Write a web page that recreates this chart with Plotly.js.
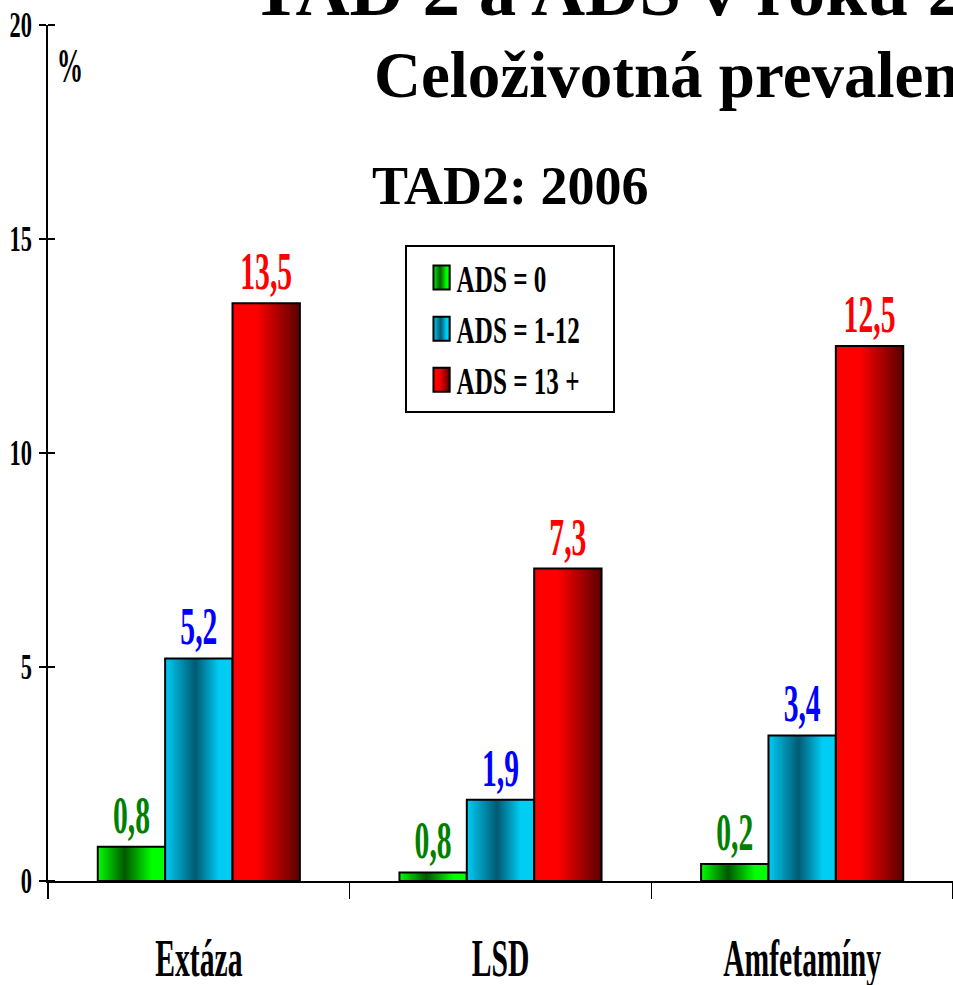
<!DOCTYPE html>
<html>
<head>
<meta charset="utf-8">
<script src="https://cdn.plot.ly/plotly-3.0.1.min.js"></script>
<style>
html,body{margin:0;padding:0;background:#fff;}
#chart{width:953px;height:985px;}
</style>
</head>
<body>
<div id="chart"></div>
<script>
const categories = ['Extáza', 'LSD', 'Amfetamíny'];
const seriesNames = ['ADS = 0', 'ADS = 1-12', 'ADS = 13 +'];
const ads0 = [0.8, 0.2, 0.4];
const ads0Labels = ['0,8', '0,8', '0,2'];
const ads1to12 = [5.2, 1.9, 3.4];
const ads1to12Labels = ['5,2', '1,9', '3,4'];
const ads13plus = [13.5, 7.3, 12.5];
const ads13plusLabels = ['13,5', '7,3', '12,5'];
const yTicks = [0, 5, 10, 15, 20];

const FONT = '"Liberation Serif", "Times New Roman", serif';
const baseColors = ['#00e000', '#00c0e8', '#ff0000'];
const labelColors = ['#008000', '#0000ff', '#ff0000'];
const values = [ads0, ads1to12, ads13plus];
const labels = [ads0Labels, ads1to12Labels, ads13plusLabels];

const traces = values.map((v, i) => ({
  type: 'bar',
  name: seriesNames[i],
  x: categories,
  y: v,
  text: labels[i],
  textposition: 'outside',
  constraintext: 'none',
  cliponaxis: false,
  textfont: {family: FONT, size: 52, color: labelColors[i], weight: 'bold'},
  marker: {color: baseColors[i], line: {color: '#000', width: 2}},
  legendgroup: 'g' + i,
  hoverinfo: 'none'
}));

const layout = {
  width: 953, height: 985,
  margin: {l: 48, r: 0, t: 25, b: 104},
  paper_bgcolor: '#fff', plot_bgcolor: '#fff',
  barmode: 'group', bargap: 0.33, bargroupgap: 0,
  font: {family: FONT, color: '#000', weight: 'bold'},
  showlegend: true,
  legend: {
    x: 0.394, y: 0.743, xanchor: 'left', yanchor: 'top',
    bordercolor: '#000', borderwidth: 2, bgcolor: '#fff',
    font: {family: FONT, size: 37, color: '#000', weight: 'bold'},
    traceorder: 'grouped', tracegroupgap: 0,
    itemwidth: 30
  },
  xaxis: {
    type: 'category', range: [-0.5, 2.5], fixedrange: true,
    showline: true, linecolor: '#000', linewidth: 2,
    ticks: 'outside', tickson: 'boundaries', ticklen: 16, tickwidth: 1.5, tickcolor: '#000',
    tickfont: {family: FONT, size: 52, color: '#000', weight: 'bold'},
    ticklabelstandoff: 31,
    showgrid: false, zeroline: false
  },
  yaxis: {
    range: [0, 20], fixedrange: true,
    tickvals: yTicks, ticktext: yTicks.map(String),
    showline: true, linecolor: '#000', linewidth: 2,
    ticks: 'outside', ticklen: 7, tickwidth: 1.5, tickcolor: '#000',
    minor: {tickvals: yTicks, ticks: 'inside', ticklen: 7, tickwidth: 1.5, tickcolor: '#000', showgrid: false},
    tickfont: {family: FONT, size: 35, color: '#000', weight: 'bold'},
    ticklabelstandoff: 3,
    showgrid: false, zeroline: false
  },
  annotations: [
    {text: 'TAD 2 a ADS v roku 2006', xref: 'paper', yref: 'paper', x: 0.222, y: 1.041,
     xanchor: 'left', yanchor: 'middle', showarrow: false,
     font: {family: FONT, size: 75, color: '#000', weight: 'bold'}},
    {text: 'Celoživotná prevalencia', xref: 'paper', yref: 'paper', x: 0.358, y: 0.942,
     xanchor: 'left', yanchor: 'middle', showarrow: false,
     font: {family: FONT, size: 65, color: '#000', weight: 'bold'}},
    {text: 'TAD2: 2006', xref: 'paper', yref: 'paper', x: 0.5105, y: 0.812,
     xanchor: 'center', yanchor: 'middle', showarrow: false,
     font: {family: FONT, size: 54, color: '#000', weight: 'bold'}},
    {text: '%', xref: 'paper', yref: 'paper', x: 0.0243, y: 0.953,
     xanchor: 'center', yanchor: 'middle', showarrow: false,
     font: {family: FONT, size: 48, color: '#000', weight: 'bold'}}
  ]
};

const gradients = [
  [[0, '#00ff00'], [0.4, '#005800'], [0.8, '#00ff00'], [1, '#00ff00']],
  [[0, '#00ccf4'], [0.45, '#005a72'], [0.8, '#00ccf4'], [1, '#00ccf4']],
  [[0, '#ff0000'], [0.35, '#ff0000'], [1, '#580000']]
];

// narrow the Times-like text horizontally to imitate the condensed face of the original
function condense(el, sx, anchor, dx) {
  const bb = el.getBBox();
  const cx = anchor === 'left' ? bb.x : anchor === 'right' ? bb.x + bb.width : bb.x + bb.width / 2;
  const prev = el.getAttribute('transform') || '';
  el.setAttribute('transform', prev + ' translate(' + (cx + (dx || 0)) + ',0) scale(' + sx + ',1) translate(' + (-cx) + ',0)');
}

function finish(gd) {
  const svg = gd.querySelector('svg.main-svg');
  const NS = 'http://www.w3.org/2000/svg';
  let defs = svg.querySelector('defs');
  if (!defs) { defs = document.createElementNS(NS, 'defs'); svg.insertBefore(defs, svg.firstChild); }
  gradients.forEach((stops, i) => {
    const lg = document.createElementNS(NS, 'linearGradient');
    lg.setAttribute('id', 'bargrad' + i);
    lg.setAttribute('x1', '0'); lg.setAttribute('x2', '1');
    lg.setAttribute('y1', '0'); lg.setAttribute('y2', '0');
    stops.forEach(s => {
      const st = document.createElementNS(NS, 'stop');
      st.setAttribute('offset', s[0]);
      st.setAttribute('stop-color', s[1]);
      lg.appendChild(st);
    });
    defs.appendChild(lg);
  });
  gd.querySelectorAll('.barlayer .trace').forEach((t, i) => {
    t.querySelectorAll('.point path').forEach(p => { p.style.fill = 'url(#bargrad' + i + ')'; });
    t.querySelectorAll('text').forEach(tx => condense(tx, 0.57, 'center'));
  });
  gd.querySelectorAll('.legend .traces').forEach((t, i) => {
    t.querySelectorAll('.legendpoints path').forEach(p => {
      p.style.fill = 'url(#bargrad' + i + ')';
      p.style.vectorEffect = 'non-scaling-stroke';
      const prev = p.getAttribute('transform') || '';
      p.setAttribute('transform', prev + ' translate(15,0) scale(1.35,2)');
    });
    t.querySelectorAll('text.legendtext').forEach(tx => condense(tx, 0.68, 'left', 10));
  });
  const bg = gd.querySelector('.legend rect.bg');
  if (bg) bg.setAttribute('width', 208);
  gd.querySelectorAll('.xtick text').forEach(tx => condense(tx, 0.57, 'center'));
  gd.querySelectorAll('.ytick text').forEach(tx => condense(tx, 0.64, 'right', 3));
  const anns = gd.querySelectorAll('.annotation');
  if (anns[3]) anns[3].querySelectorAll('text').forEach(tx => condense(tx, 0.55, 'center'));
}

const gd = document.getElementById('chart');
Plotly.newPlot(gd, traces, layout, {staticPlot: true, displayModeBar: false}).then(finish);
</script>
</body>
</html>
